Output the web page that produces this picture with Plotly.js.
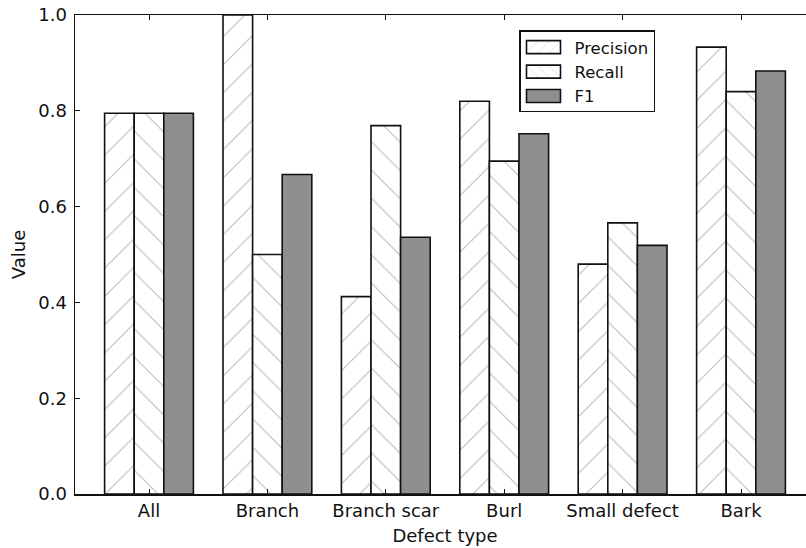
<!DOCTYPE html>
<html>
<head>
<meta charset="utf-8">
<script src="https://cdn.plot.ly/plotly-3.0.1.min.js"></script>
<style>
html, body { margin: 0; padding: 0; overflow: hidden; background: #fff; }
#chart { width: 820px; height: 548px; }
</style>
</head>
<body>
<div id="chart"></div>
<script>
const categories = ["All", "Branch", "Branch scar", "Burl", "Small defect", "Bark"];
const precision = [0.795, 1.0, 0.412, 0.820, 0.480, 0.933];
const recall    = [0.795, 0.500, 0.769, 0.695, 0.566, 0.840];
const f1        = [0.795, 0.667, 0.536, 0.752, 0.519, 0.883];
const yTicks = [0.0, 0.2, 0.4, 0.6, 0.8, 1.0];

const font = { family: "DejaVu Sans, sans-serif", size: 18, color: "#111" };
const legendFont = { family: "DejaVu Sans, sans-serif", size: 16.5, color: "#111" };
const outline = { color: "#111", width: 1.6 };

const traces = [
  {
    type: "bar", name: "Precision", x: categories, y: precision,
    marker: { color: "#fff", line: outline,
      pattern: { shape: "/", fgcolor: "#b8b8b8", bgcolor: "#ffffff", size: 20, solidity: 0.05 } }
  },
  {
    type: "bar", name: "Recall", x: categories, y: recall,
    marker: { color: "#fff", line: outline,
      pattern: { shape: "\\", fgcolor: "#b8b8b8", bgcolor: "#ffffff", size: 20, solidity: 0.05 } }
  },
  {
    type: "bar", name: "F1", x: categories, y: f1,
    marker: { color: "#8f8f8f", line: outline }
  }
];

const layout = {
  width: 820, height: 548,
  margin: { l: 75, r: 5, t: 15, b: 54 },
  paper_bgcolor: "#fff", plot_bgcolor: "#fff",
  font: font,
  barmode: "group", bargap: 0.25, bargroupgap: 0,
  showlegend: true,
  legend: {
    x: 0.6, y: 0.972, xanchor: "left", yanchor: "top",
    bordercolor: "#111", borderwidth: 1.5, bgcolor: "#fff",
    font: legendFont, traceorder: "normal", tracegroupgap: 0,
    itemwidth: 44
  },
  xaxis: {
    type: "category", range: [-0.625, 5.625],
    showline: true, linecolor: "#111", linewidth: 1.5, mirror: "ticks",
    ticks: "inside", ticklen: 5, tickcolor: "#111", tickwidth: 1,
    showgrid: false, zeroline: false, tickfont: font,
    title: { text: "Defect type", font: font, standoff: 9 }
  },
  yaxis: {
    range: [0, 1.0], tickvals: yTicks, tickformat: ".1f",
    showline: true, linecolor: "#111", linewidth: 1.5, mirror: "ticks",
    ticks: "inside", ticklen: 5, tickcolor: "#111", tickwidth: 1,
    ticklabelstandoff: 3,
    showgrid: false, zeroline: false, tickfont: font,
    title: { text: "Value", font: font, standoff: 8 }
  }
};

Plotly.newPlot("chart", traces, layout, { displayModeBar: false, staticPlot: true }).then(function (gd) {
  // widen legend swatches to rectangles like the reference
  gd.querySelectorAll(".legend .legendpoints path").forEach(function (p) {
    p.setAttribute("d", "M-17,6.5H17V-6.5H-17Z");
    p.style.strokeWidth = "1.6px";
  });
  gd.querySelectorAll(".legend .legendpoints").forEach(function (g) {
    g.setAttribute("transform", "translate(-4,0)");
  });
  // tighten the legend frame vertically
  const bg = gd.querySelector(".legend rect.bg");
  if (bg) {
    const y = parseFloat(bg.getAttribute("y") || "0");
    const h = parseFloat(bg.getAttribute("height") || "0");
    bg.setAttribute("y", y + 2);
    bg.setAttribute("height", h - 5);
  }
});
</script>
</body>
</html>
